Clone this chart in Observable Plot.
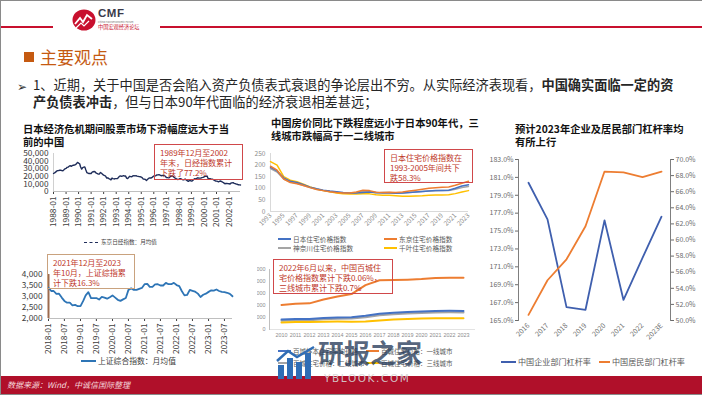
<!DOCTYPE html>
<html><head><meta charset="utf-8">
<script src="https://cdn.jsdelivr.net/npm/d3@7"></script>
<script src="https://cdn.jsdelivr.net/npm/@observablehq/plot@0.6"></script>
<style>
body{margin:0;background:#fff;}
#slide{position:relative;width:702px;height:395px;overflow:hidden;background:#fff;font-family:"Noto Sans CJK SC","Noto Sans",sans-serif;box-sizing:border-box;border-top:1px solid #8a8a8a;border-left:1px solid #8a8a8a;border-bottom:1px solid #8a8a8a;}
.a{position:absolute;white-space:nowrap;}
.ttl{font-weight:bold;font-size:10.3px;line-height:13px;color:#111;}
.box{position:absolute;border:1px solid #d0484a;color:#c0392b;font-size:8.1px;letter-spacing:-0.1px;line-height:9.8px;padding:3px 0 0 5px;box-sizing:border-box;white-space:nowrap;}
.lg{position:absolute;white-space:nowrap;color:#595959;display:flex;align-items:center;}
.sw{display:inline-block;height:2px;margin-right:2px;}
</style></head><body>
<div id="slide">
  <!-- header -->
  <div class="a" style="left:0;top:25px;width:52px;height:1.5px;background:#c8102e"></div>
  <div class="a" style="left:159px;top:25px;width:543px;height:1.5px;background:#c8102e"></div>
  <svg class="a" style="left:71px;top:8px" width="24" height="22" viewBox="0 0 24 22">
    <ellipse cx="12" cy="11" rx="11.5" ry="10.5" fill="#c8102e"/>
    <polyline points="3,15 8,9 11,13 15,6 20,10" fill="none" stroke="#fff" stroke-width="1.8"/>
    <polyline points="4,19 9,14 12,17 17,12" fill="none" stroke="#fff" stroke-width="1.2"/>
  </svg>
  <div class="a" style="left:97px;top:6px;font-size:11.5px;font-weight:bold;color:#3a3a4a;font-family:'Liberation Sans',sans-serif;letter-spacing:0.5px">CMF</div>
  <div class="a" style="left:97px;top:18.5px;font-size:2.6px;color:#777">China Macroeconomic Forum</div>
  <div class="a" style="left:97px;top:21.5px;font-size:5.2px;color:#c8102e">中国宏观经济论坛</div>

  <div class="a" style="left:23px;top:51px;width:10px;height:10px;background:#c55a11"></div>
  <div class="a" style="left:39px;top:45px;font-size:17px;line-height:22px;color:#c55a11">主要观点</div>

  <div class="a" style="left:16px;top:77px;font-size:12px;line-height:16.5px;color:#333">➢</div>
  <div class="a" style="left:32px;top:76px;font-size:13.2px;line-height:16.8px;color:#262626">1、近期，关于中国是否会陷入资产负债表式衰退的争论层出不穷。从实际经济表现看，<b>中国确实面临一定的资</b><br><b>产负债表冲击</b>，但与日本90年代面临的经济衰退相差甚远；</div>

  <!-- chart titles -->
  <div class="a ttl" style="left:22px;top:121px">日本经济危机期间股票市场下滑幅度远大于当<br>前的中国</div>
  <div class="a ttl" style="left:270px;top:115px">中国房价同比下跌程度远小于日本90年代，三<br>线城市跌幅高于一二线城市</div>
  <div class="a ttl" style="left:514px;top:121px">预计2023年企业及居民部门杠杆率均<br>有所上行</div>

  <!-- bottom bar -->
  <div class="a" style="left:0;top:375px;width:702px;height:18px;background:#b0102a"></div>
  <div class="a" style="left:6px;top:378px;font-size:8px;line-height:12px;font-style:italic;color:#f6d9de">数据来源：Wind，中诚信国际整理</div>
</div>
<script>
const FONT = '"Noto Sans CJK SC","Noto Sans",sans-serif';
const slide = document.getElementById("slide");

// ---------- Chart 1: Nikkei monthly average 1988-01 .. 2002-12 ----------
const nikkeiStart = "1988-01";
const nikkeiTickLabels = ["1988-01","1989-01","1990-01","1991-01","1992-01","1993-01","1994-01","1995-01","1996-01","1997-01","1998-01","1999-01","2000-01","2001-01","2002-01"];
const nikkeiYTicks = [0,10000,20000,30000,40000,50000];
const nikkeiValues = [
 23700,24500,25500,26800,27500,27700,28000,27900,27500,27300,28500,29800,
 30400,31800,32100,33200,34000,33200,33900,34600,34800,35400,36600,38300,
 37300,36500,32200,29500,31500,32000,32400,28200,24800,24200,23600,23800,
 23700,25500,26000,26300,25700,24100,23600,22900,23100,25000,24000,22500,
 21600,21000,20000,17600,18000,17000,16300,15300,17700,17000,16500,16900,
 17000,16900,18000,20000,20500,20000,20200,20800,20300,20300,17600,17000,
 18600,20000,19600,19500,20600,20900,20600,20700,20200,19900,19600,19400,
 19000,17900,16300,16300,15800,14600,15700,17300,17900,17700,18100,19200,
 20300,20400,20800,21800,21900,22200,21600,20700,21000,21300,21000,20000,
 18400,18300,18000,18300,20100,20400,20200,19200,18000,17300,16200,15800,
 16200,16800,16800,15900,15500,15400,16500,15300,14200,13400,14400,14300,
 13700,14100,15400,16700,16600,17100,18000,17700,17600,17600,18200,18500,
 19100,19900,19900,20400,17000,16700,16800,16300,16200,15500,14700,13900,
 13700,13300,12700,13500,13800,12900,12200,11300,10200,10500,10500,10400,
 10200,9900,11200,11300,11700,10800,10300,9700,9500,8800,8700,8600];

// ---------- Chart 2: Shanghai Composite monthly average 2018-01 .. 2023-10 ----------
const shStart = "2018-01";
const shTickLabels = ["2018-01","2018-07","2019-01","2019-07","2020-01","2020-07","2021-01","2021-07","2022-01","2022-07","2023-01","2023-07"];
const shYTicks = [2000,2500,3000,3500,4000];
const shValues = [
 3400,3250,3250,3120,3130,2950,2800,2720,2720,2600,2620,2560,
 2560,2800,3050,3200,2930,2930,2930,2860,2980,2950,2900,2970,
 3050,2950,2850,2800,2870,2930,3300,3370,3300,3300,3350,3390,
 3560,3570,3440,3440,3550,3560,3500,3500,3620,3560,3560,3620,
 3520,3470,3250,3050,3070,3300,3260,3220,3130,2980,3080,3130,
 3210,3280,3270,3320,3250,3210,3200,3170,3120,3010];

// ---------- Chart 3: Japan housing price indices 1993..2023 ----------
const housingYears = [1993,1994,1995,1996,1997,1998,1999,2000,2001,2002,2003,2004,2005,2006,2007,2008,2009,2010,2011,2012,2013,2014,2015,2016,2017,2018,2019,2020,2021,2022,2023];
const housingTicks = [1993,1995,1997,1999,2001,2003,2005,2007,2009,2011,2013,2015,2017,2019,2021,2023];
const housingYTicks = [0,50,100,150,200,250];
const japanIndex    = [190,175,145,130,125,115,105,98,92,88,85,82,80,80,82,84,82,80,80,79,80,82,84,86,88,90,91,92,100,110,115];
const tokyoIndex    = [195,178,140,125,120,112,103,95,90,85,82,80,80,84,92,90,83,82,83,82,84,88,92,96,100,102,104,106,113,122,130];
const kanagawaIndex = [185,170,140,127,122,112,103,96,90,86,83,80,79,81,87,86,80,82,82,80,80,82,84,86,88,89,90,91,96,103,108];
const chibaIndex    = [215,200,150,135,128,118,106,97,90,85,80,77,75,75,77,76,72,70,70,68,66,66,67,68,70,71,71,72,77,84,90];
const housingSeries = [
  {name:"神奈川住宅价格指数", values:kanagawaIndex, color:"#a5a5a5"},
  {name:"千叶住宅价格指数", values:chibaIndex, color:"#ffc000"},
  {name:"日本住宅价格指数", values:japanIndex, color:"#4472c4"},
  {name:"东京住宅价格指数", values:tokyoIndex, color:"#ed7d31"}
];

// ---------- Chart 4: China 100-city housing prices 2010..2023 ----------
const cityYears = ["2010","2011","2012","2013","2014","2015","2016","2017","2018","2019","2020","2021","2022","2023"];
const cityYTicks = [0,10000,20000,30000,40000,50000];
const hundredCity = [8300,8800,8700,9500,10000,10300,11500,13200,14000,14600,15000,15500,15600,15500];
const tier1City   = [20500,21500,21800,25000,27500,29500,37000,41000,41200,41500,42000,43000,43200,43200];
const tier2City   = [7300,7800,7800,8500,8900,9100,10200,11800,12700,13300,13700,14200,14300,14200];
const tier3City   = [5800,6200,6300,6500,6600,6500,6700,7600,8300,8800,9100,9400,9400,9300];
const citySeries = [
  {name:"百城住宅价格：二线城市", values:tier2City, color:"#a5a5a5"},
  {name:"百城住宅价格：三线城市", values:tier3City, color:"#ffc000"},
  {name:"百城住宅价格：一线城市", values:tier1City, color:"#ed7d31"},
  {name:"百城样本住宅平均价格", values:hundredCity, color:"#4472c4"}
];

// ---------- Chart 5: leverage ratios ----------
const levYears = ["2016","2017","2018","2019","2020","2021","2022","2023E"];
const corpTicks = [165,167,169,171,173,175,177,179,181,183];
const houseTicks = [50,52,54,56,58,60,62,64,66,68,70];
const corpLev  = [180.4,176.3,166.5,166.2,176.2,167.3,172.0,176.6];
const houseLev = [50.7,55.0,57.6,61.7,68.5,68.4,67.8,68.5];

function place(el, left, top, w, h, clip){
  const d = document.createElement("div");
  d.style.cssText = `position:absolute;left:${left}px;top:${top}px;` + (clip ? `width:${w}px;height:${h}px;overflow:hidden;` : "");
  d.appendChild(el); slide.appendChild(d); return d;
}
function addHTML(html){ slide.insertAdjacentHTML("beforeend", html); }
const baseStyle = (fs, color, ov) => ({fontFamily:FONT, fontSize:fs, color, background:"transparent", overflow: ov ? "visible" : "hidden"});
const parseYM = d3.utcParse("%Y-%m");

// Chart 1
const n0 = parseYM(nikkeiStart);
const nikkeiData = nikkeiValues.map((v,i)=>({date:d3.utcMonth.offset(n0,i), value:v}));
place(Plot.plot({
  width:255, height:85, marginLeft:52, marginRight:16, marginTop:7, marginBottom:40,
  style: baseStyle("8.3px","#404040",true),
  x:{type:"utc", domain:[nikkeiData[0].date, nikkeiData[nikkeiData.length-1].date], ticks:nikkeiTickLabels.map(parseYM), tickFormat:d3.utcFormat("%Y-%m"), tickRotate:-90, tickSize:3, tickPadding:2, label:null},
  y:{domain:[0,50000], ticks:nikkeiYTicks, tickFormat:d3.format(","), tickSize:0, tickPadding:5, label:null},
  marks:[
    Plot.ruleY([0],{stroke:"#bfbfbf"}),
    Plot.ruleX([nikkeiData[0].date],{stroke:"#d0d0d0"}),
    Plot.lineY(nikkeiData,{x:"date", y:"value", stroke:"#1f2d5a", strokeWidth:1.4})
  ]
}), 0, 145);

// Chart 2
const s0 = parseYM(shStart);
const shData = shValues.map((v,i)=>({date:d3.utcMonth.offset(s0,i), value:v}));
place(Plot.plot({
  width:255, height:90, marginLeft:47, marginRight:24, marginTop:8, marginBottom:38,
  style: baseStyle("8.3px","#404040",true),
  x:{type:"utc", domain:[shData[0].date, shData[shData.length-1].date], ticks:shTickLabels.map(parseYM), tickFormat:d3.utcFormat("%Y-%m"), tickRotate:-90, tickSize:3, tickPadding:2, label:null},
  y:{domain:[2000,4000], ticks:shYTicks, tickFormat:d3.format(","), tickSize:0, tickPadding:6, label:null},
  marks:[
    Plot.ruleY([2000],{stroke:"#bfbfbf"}),
    Plot.ruleX([shData[0].date],{stroke:"#9c6b4e", strokeWidth:2}),
    Plot.lineY(shData,{x:"date", y:"value", stroke:"#2e75b6", strokeWidth:1.8})
  ]
}), 0, 265);

// Chart 3
place(Plot.plot({
  width:220, height:86, marginLeft:14, marginRight:8, marginTop:6, marginBottom:22,
  style: baseStyle("6.6px","#8c8c8c",true),
  x:{domain:[housingYears[0], housingYears[housingYears.length-1]], ticks:housingTicks, tickFormat:d=>String(d), tickRotate:-45, tickSize:0, tickPadding:3, label:null},
  y:{domain:[0,250], ticks:housingYTicks, tickSize:0, tickPadding:5, label:null},
  marks:[
    Plot.ruleY([0],{stroke:"#d9d9d9"}),
    Plot.ruleX([housingYears[0]],{stroke:"#d9d9d9"}),
    ...housingSeries.map(s => Plot.lineY(housingYears.map((y,i)=>({year:y, v:s.values[i]})), {x:"year", y:"v", stroke:s.color, strokeWidth:1.5}))
  ]
}), 255, 146);

// Chart 4
place(Plot.plot({
  width:220, height:80, marginLeft:12, marginRight:2, marginTop:6, marginBottom:14,
  style: {...baseStyle("5.4px","#8c8c8c",false), fontFamily:'"Liberation Sans","Noto Sans",sans-serif'},
  x:{type:"point", domain:cityYears, padding:0.62, tickSize:0, tickPadding:4, label:null},
  y:{domain:[0,50000], ticks:cityYTicks, tickFormat:d3.format(","), tickSize:0, tickPadding:4, label:null},
  marks:[
    Plot.ruleY([0],{stroke:"#e3e3e3"}),
    Plot.frame({anchor:"left", stroke:"#bfbfbf"}),
    ...citySeries.map(s => Plot.lineY(cityYears.map((y,i)=>({year:y, v:s.values[i]})), {x:"year", y:"v", stroke:s.color, strokeWidth:2}))
  ]
}), 256, 262, 220, 80, true);

// Chart 5 (dual axis: two overlaid plots sharing x)
const corpData = levYears.map((y,i)=>({year:y, v:corpLev[i]}));
const houseData = levYears.map((y,i)=>({year:y, v:houseLev[i]}));
const c5 = {width:222, height:199, marginLeft:41, marginRight:29, marginTop:8, marginBottom:30};
place(Plot.plot({
  ...c5, style: baseStyle("7px","#6b6b6b",true),
  x:{type:"point", domain:levYears, padding:0.5, tickRotate:-45, tickSize:0, tickPadding:4, label:null},
  y:{domain:[165,183], ticks:corpTicks, tickFormat:d=>d.toFixed(1)+"%", tickSize:3, tickPadding:2, label:null},
  marks:[
    Plot.frame({anchor:"left", stroke:"#7f7f7f"}),
    Plot.lineY(corpData,{x:"year", y:"v", stroke:"#3f5fae", strokeWidth:1.8})
  ]
}), 476, 150);
place(Plot.plot({
  ...c5, style: baseStyle("7px","#6b6b6b",true),
  x:{type:"point", domain:levYears, padding:0.5, axis:null},
  y:{domain:[50,70], ticks:houseTicks, tickFormat:d=>d.toFixed(1)+"%", axis:"right", tickSize:3, tickPadding:2, label:null},
  marks:[
    Plot.frame({anchor:"right", stroke:"#7f7f7f"}),
    Plot.lineY(houseData,{x:"year", y:"v", stroke:"#ed7d31", strokeWidth:1.8})
  ]
}), 476, 150);

// Annotation boxes
addHTML(`<div class="box" style="left:153px;top:143px;width:89px;height:36px">1989年12月至2002<br>年末，日经指数累计<br>下跌了77.2%</div>`);
addHTML(`<div class="box" style="left:46px;top:253px;width:88px;height:35px;border-color:#c9a27e">2021年12月至2023<br>年10月，上证综指累<br>计下跌16.3%</div>`);
addHTML(`<div class="box" style="left:383px;top:148px;width:89px;height:34px">日本住宅价格指数在<br>1993-2005年间共下<br>跌58.3%</div>`);
addHTML(`<div class="box" style="left:272px;top:258px;width:120px;height:35px">2022年6月以来，中国百城住<br>宅价格指数累计下跌0.06%，<br>三线城市累计下跌0.7%</div>`);

// Legends
addHTML(`<div class="lg" style="left:83px;top:236px;font-size:5.6px;line-height:10px;color:#404040"><span class="sw" style="width:14px;height:0;border-top:1.5px dashed #1f2d5a;margin-right:3px"></span>东京日经指数：月均值</div>`);
addHTML(`<div class="lg" style="left:80px;top:354px;font-size:7.8px;line-height:12px;color:#404040"><span class="sw" style="width:15px;background:#2e75b6"></span>上证综合指数：月均值</div>`);
const legendRow = (y, items, fs, xs) => items.map((s,k)=>`<div class="lg" style="left:${xs[k]}px;top:${y}px;font-size:${fs}px;line-height:9px"><span class="sw" style="width:13px;background:${s.color}"></span>${s.name}</div>`).join("");
const hs = Object.fromEntries(housingSeries.map(s=>[s.name,s]));
addHTML(legendRow(233.5,[hs["日本住宅价格指数"],hs["东京住宅价格指数"]],6.7,[277,383]));
addHTML(legendRow(242.5,[hs["神奈川住宅价格指数"],hs["千叶住宅价格指数"]],6.7,[277,383]));
const cs = Object.fromEntries(citySeries.map(s=>[s.name,s]));
addHTML(legendRow(345.5,[cs["百城样本住宅平均价格"],cs["百城住宅价格：一线城市"]],6.5,[277,365]));
addHTML(legendRow(357.5,[cs["百城住宅价格：二线城市"],cs["百城住宅价格：三线城市"]],6.5,[277,365]));
addHTML(`<div class="lg" style="left:500px;top:355px;font-size:8.1px;line-height:12px"><span class="sw" style="width:15px;background:#3f5fae"></span>中国企业部门杠杆率</div>`);
addHTML(`<div class="lg" style="left:598px;top:355px;font-size:8.1px;line-height:12px"><span class="sw" style="width:11px;background:#ed7d31"></span>中国居民部门杠杆率</div>`);

// Watermark
addHTML(`<svg class="a" style="left:275px;top:344px" width="42" height="34" viewBox="0 0 42 34">
 <rect x="2" y="20" width="6" height="14" fill="#2f6db5"/><rect x="11" y="13" width="6" height="21" fill="#2f6db5"/>
 <rect x="20" y="17" width="6" height="17" fill="#2f6db5"/><rect x="29" y="8" width="6" height="26" fill="#2f6db5"/>
 <polyline points="1,16 12,6 21,12 38,2" fill="none" stroke="#2f6db5" stroke-width="2.5"/></svg>`);
addHTML(`<div class="a" style="left:317px;top:339px;font-size:26px;line-height:24px;font-weight:bold;color:rgba(40,60,90,0.78)">研报之家</div>`);
addHTML(`<div class="a" style="left:323px;top:370px;font-size:10.5px;line-height:14px;letter-spacing:1.6px;color:rgba(215,215,215,0.9);font-family:'DejaVu Sans',sans-serif">YBLOOK.COM</div>`);
</script>
</body></html>
